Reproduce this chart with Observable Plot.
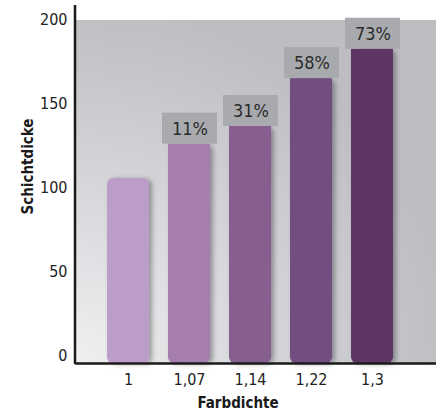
<!DOCTYPE html>
<html>
<head>
<meta charset="utf-8">
<script src="https://cdn.jsdelivr.net/npm/d3@7"></script>
<script src="https://cdn.jsdelivr.net/npm/@observablehq/plot@0.6"></script>
<style>
  html, body { margin: 0; padding: 0; background: #fff; }
  #chart svg { display: block; }
</style>
</head>
<body>
<div id="chart"></div>
<script>
const categories = ["1", "1,07", "1,14", "1,22", "1,3"];
const values = [106.5, 127, 137.5, 166, 183.5];
const percentLabels = ["", "11%", "31%", "58%", "73%"];
const barColors = ["#bc9cc9", "#a57dae", "#875e8f", "#724d80", "#5f3566"];
const yTicks = [0, 50, 100, 150, 200];
const yTitle = "Schichtdicke";
const xTitle = "Farbdichte";

const data = categories.map((c, i) => ({cat: c, value: values[i], pct: percentLabels[i], color: barColors[i]}));
const labeled = data.filter(d => d.pct !== "");

const FONT = "'DejaVu Sans Condensed', sans-serif";

function background(...args) {
  const dims = args.find(a => a && typeof a === "object" && "marginLeft" in a);
  const {width, height, marginLeft, marginTop, marginBottom} = dims;
  const ns = "http://www.w3.org/2000/svg";
  const g = document.createElementNS(ns, "g");
  g.innerHTML = `
    <defs>
      <radialGradient id="bgGrad" cx="0" cy="1" r="1.05" fx="0" fy="1">
        <stop offset="0" stop-color="#eff0f1"/>
        <stop offset="0.45" stop-color="#d8d9dc"/>
        <stop offset="0.8" stop-color="#c6c7cb"/>
        <stop offset="1" stop-color="#bdbec2"/>
      </radialGradient>
      <filter id="barShadow" x="-30%" y="-10%" width="160%" height="120%">
        <feDropShadow dx="3" dy="1" stdDeviation="2.5" flood-color="#000" flood-opacity="0.33"/>
      </filter>
    </defs>
    <rect x="${marginLeft}" y="${marginTop - 1}" width="${width - 4 - marginLeft}" height="${height - marginBottom - marginTop + 7}" fill="url(#bgGrad)"/>
  `;
  return g;
}

function yAxisLine(...args) {
  const dims = args.find(a => a && typeof a === "object" && "marginLeft" in a);
  const {height, marginLeft, marginTop, marginBottom} = dims;
  const ns = "http://www.w3.org/2000/svg";
  const l = document.createElementNS(ns, "line");
  l.setAttribute("x1", marginLeft);
  l.setAttribute("x2", marginLeft);
  l.setAttribute("y1", marginTop - 16);
  l.setAttribute("y2", height - marginBottom + 7);
  l.setAttribute("stroke", "#1a1a1a");
  l.setAttribute("stroke-width", 2.5);
  return l;
}

const chart = Plot.plot({
  width: 440,
  height: 412,
  marginLeft: 75,
  marginRight: 14,
  marginTop: 21,
  marginBottom: 55,
  style: {fontFamily: FONT, fontSize: "16px", color: "#222", background: "#fff"},
  x: {domain: categories, paddingInner: 0.306, paddingOuter: 0.484, label: null},
  y: {domain: [0, 200], ticks: yTicks, label: null},
  marks: [
    background,
    Plot.barY(data, {x: "cat", y: "value", fill: "color", rx: 6, insetBottom: -6}),
    Plot.barY(labeled, {x: "cat", y: "value", fill: "color", insetBottom: 30}),
    Plot.barY(labeled, {x: "cat", y1: "value", y2: "value", fill: "#a9aaae", insetTop: -31, insetLeft: -6, insetRight: -7}),
    Plot.text(labeled, {x: "cat", y: "value", text: "pct", dy: -15, dx: 0.5, fontSize: 18, fill: "#2a2a2a", lineAnchor: "middle"}),
    Plot.axisX({tickSize: 0, tickPadding: 16, fontSize: 16, label: null}),
    Plot.axisY({ticks: yTicks, tickSize: 0, tickPadding: 8, fontSize: 16, dy: -2, label: null}),
    Plot.ruleY([0], {dy: 6, insetRight: -10, stroke: "#1a1a1a", strokeWidth: 2.5}),
    yAxisLine,
    Plot.text([yTitle], {frameAnchor: "left", rotate: -90, dx: -47, dy: 25, fontWeight: "bold", fontSize: 15, fill: "#1a1a1a"}),
    Plot.text([xTitle], {frameAnchor: "bottom", dx: -13, dy: 50, fontWeight: "bold", fontSize: 15, fill: "#1a1a1a"})
  ]
});

d3.select(chart).selectAll('g[aria-label="bar"]').filter((d, i) => i === 0).attr("filter", "url(#barShadow)");
document.getElementById("chart").appendChild(chart);
</script>
</body>
</html>
